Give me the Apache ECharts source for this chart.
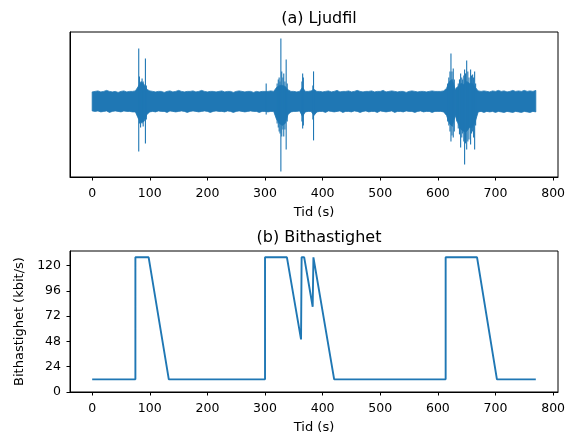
<!DOCTYPE html>
<html>
<head>
<meta charset="utf-8">
<script src="https://cdn.jsdelivr.net/npm/echarts@6/dist/echarts.min.js"></script>
<style>
html,body{margin:0;padding:0;background:#fff;}
#c{width:572px;height:435px;}
</style>
</head>
<body>
<div id="c"></div>
<script>
// ---- (a) audio waveform: envelope sampled every 5 s (t = 0, 5, ..., 770) ----
const envT = [];
for (let i = 0; i <= 154; i++) envT.push(i * 5);
const envHi = [
 0.095,0.100,0.105,0.095,0.100,0.110,0.100,0.095,0.100,0.090,   // 0-45
 0.100,0.105,0.095,0.100,0.100,0.105,0.150,0.200,0.170,0.120,   // 50-95
 0.105,0.100,0.095,0.100,0.100,0.090,0.100,0.105,0.095,0.100,   // 100-145
 0.110,0.100,0.095,0.100,0.100,0.105,0.095,0.100,0.110,0.100,   // 150-195
 0.095,0.100,0.100,0.095,0.100,0.105,0.095,0.100,0.100,0.090,   // 200-245
 0.100,0.105,0.100,0.095,0.100,0.100,0.090,0.100,0.095,0.100,   // 250-295
 0.100,0.100,0.105,0.100,0.140,0.160,0.160,0.150,0.115,0.100,   // 300-345
 0.100,0.095,0.100,0.140,0.100,0.100,0.105,0.120,0.100,0.100,   // 350-395
 0.095,0.100,0.105,0.095,0.100,0.110,0.095,0.100,0.100,0.105,   // 400-445
 0.095,0.100,0.110,0.100,0.095,0.100,0.100,0.105,0.095,0.100,   // 450-495
 0.100,0.110,0.095,0.100,0.105,0.100,0.095,0.100,0.100,0.090,   // 500-545
 0.100,0.105,0.100,0.095,0.100,0.100,0.095,0.100,0.105,0.100,   // 550-595
 0.100,0.100,0.105,0.130,0.200,0.220,0.120,0.150,0.180,0.170,   // 600-645
 0.200,0.180,0.180,0.140,0.105,0.100,0.105,0.100,0.095,0.105,   // 650-695
 0.100,0.110,0.100,0.105,0.095,0.100,0.110,0.100,0.105,0.100,   // 700-745
 0.110,0.100,0.105,0.100,0.110                                  // 750-770
];
const envLo = [
 -0.095,-0.100,-0.095,-0.105,-0.100,-0.095,-0.110,-0.100,-0.095,-0.100,
 -0.105,-0.095,-0.100,-0.100,-0.105,-0.105,-0.170,-0.210,-0.200,-0.130,
 -0.105,-0.100,-0.105,-0.095,-0.100,-0.100,-0.110,-0.095,-0.100,-0.105,
 -0.100,-0.095,-0.100,-0.110,-0.100,-0.095,-0.100,-0.105,-0.100,-0.095,
 -0.100,-0.110,-0.100,-0.095,-0.100,-0.100,-0.105,-0.095,-0.100,-0.110,
 -0.100,-0.095,-0.100,-0.105,-0.100,-0.095,-0.100,-0.100,-0.110,-0.100,
 -0.100,-0.105,-0.100,-0.100,-0.180,-0.220,-0.240,-0.220,-0.130,-0.105,
 -0.100,-0.100,-0.095,-0.150,-0.105,-0.100,-0.100,-0.140,-0.105,-0.100,
 -0.100,-0.110,-0.095,-0.100,-0.105,-0.100,-0.095,-0.110,-0.100,-0.100,
 -0.105,-0.095,-0.100,-0.110,-0.100,-0.095,-0.105,-0.100,-0.100,-0.110,
 -0.095,-0.100,-0.105,-0.100,-0.095,-0.110,-0.100,-0.100,-0.105,-0.095,
 -0.100,-0.100,-0.110,-0.100,-0.095,-0.105,-0.100,-0.100,-0.110,-0.100,
 -0.100,-0.100,-0.105,-0.140,-0.220,-0.250,-0.140,-0.220,-0.280,-0.300,
 -0.300,-0.260,-0.260,-0.200,-0.105,-0.100,-0.110,-0.100,-0.105,-0.100,
 -0.110,-0.100,-0.105,-0.110,-0.100,-0.105,-0.110,-0.100,-0.105,-0.110,
 -0.100,-0.105,-0.110,-0.100,-0.105
];
// individual peaks of the waveform
const spikeT  = [80.8,82,84,86.6,88.5,92.4,94, 302,321,323,324.5,326,327.5,329,331,332.5,334.5,336.7,338.5, 364,365.3,366.5,383,384.2,
  617,619,621,622.7,624.5,626.7,628.5,633,635.4,637.5,639.5,641.5,643,645,646.4,648,650,652,654,656.8,658.5,660.3,662,663.8,665.5];
const spikeHi = [0.53,0.25,0.18,0.23,0.20,0.43,0.16, 0.18,0.18,0.22,0.24,0.20,0.63,0.30,0.24,0.28,0.20,0.42,0.18, 0.20,0.28,0.24,0.16,0.30,
  0.18,0.24,0.30,0.48,0.30,0.33,0.22,0.14,0.18,0.22,0.28,0.24,0.22,0.26,0.32,0.28,0.41,0.30,0.24,0.32,0.26,0.27,0.24,0.30,0.18];
const spikeLo = [-0.50,-0.22,-0.26,-0.22,-0.25,-0.42,-0.18, -0.13,-0.22,-0.26,-0.30,-0.32,-0.70,-0.35,-0.28,-0.35,-0.28,-0.48,-0.20, -0.20,-0.27,-0.24,-0.18,-0.39,
  -0.20,-0.24,-0.30,-0.40,-0.34,-0.36,-0.30,-0.20,-0.27,-0.33,-0.46,-0.36,-0.32,-0.40,-0.63,-0.42,-0.48,-0.40,-0.38,-0.43,-0.32,-0.30,-0.36,-0.48,-0.24];

// ---- (b) bitrate ----
const brT = [0, 75, 75, 98, 133, 300, 300, 338, 362.5, 363.5, 368, 382.7, 384, 386, 420, 613.5, 613.5, 668, 702.5, 770];
const brV = [12, 12, 128, 128, 12, 12, 128, 128, 50, 128, 128, 81, 128, 128, 12, 12, 128, 128, 12, 12];

const xTicks = [0, 100, 200, 300, 400, 500, 600, 700, 800];
const yTicksB = [0, 24, 48, 72, 96, 120];

const C = '#1f77b4';
const FONT = 'DejaVu Sans';
const TICKF = 12.5, NAMEF = 13, TITLEF = 16;

const chart = echarts.init(document.getElementById('c'), null, {renderer: 'canvas'});

function xAxisCfg(gi) {
  return {
    type: 'value', gridIndex: gi, min: -38.5, max: 808.5,
    name: 'Tid (s)', nameLocation: 'middle', nameGap: 29,
    nameTextStyle: {fontFamily: FONT, fontSize: NAMEF, color: '#000'},
    axisLine: {show: true, onZero: false, lineStyle: {color: '#000', width: 1}},
    axisTick: {show: true, length: 3.5, inside: false, customValues: xTicks, lineStyle: {color: '#000', width: 1}},
    axisLabel: {show: true, customValues: xTicks, margin: 10, fontFamily: FONT, fontSize: TICKF, color: '#000'},
    splitLine: {show: false}
  };
}

const envData = envT.map((t, i) => [t, envHi[i], envLo[i]]);
const spikeData = spikeT.map((t, i) => [t, spikeHi[i], spikeLo[i]]);
const brData = brT.map((t, i) => [t, brV[i]]);

chart.setOption({
  animation: false,
  backgroundColor: '#fff',
  title: [
    {text: '(a) Ljudfil', left: 314, top: 6, textAlign: 'center',
     textStyle: {fontFamily: FONT, fontSize: TITLEF, fontWeight: 'normal', color: '#000'}},
    {text: '(b) Bithastighet', left: 314, top: 225, textAlign: 'center',
     textStyle: {fontFamily: FONT, fontSize: TITLEF, fontWeight: 'normal', color: '#000'}}
  ],
  grid: [
    {left: 70, top: 32, width: 488, height: 145, show: true, borderColor: '#000', borderWidth: 1, backgroundColor: 'transparent'},
    {left: 70, top: 251, width: 488, height: 145, show: true, borderColor: '#000', borderWidth: 1, backgroundColor: 'transparent'}
  ],
  xAxis: [xAxisCfg(0), xAxisCfg(1)],
  yAxis: [
    {type: 'value', gridIndex: 0, min: -0.756, max: 0.694,
     axisLine: {show: true, onZero: false, lineStyle: {color: '#000'}}, axisTick: {show: false}, axisLabel: {show: false}, splitLine: {show: false}},
    {type: 'value', gridIndex: 1, min: 0, max: 134,
     name: 'Bithastighet (kbit/s)', nameLocation: 'middle', nameGap: 38,
     nameTextStyle: {fontFamily: FONT, fontSize: NAMEF, color: '#000'},
     axisLine: {show: true, onZero: false, lineStyle: {color: '#000', width: 1}},
     axisTick: {show: true, length: 3.5, customValues: yTicksB, lineStyle: {color: '#000', width: 1}},
     axisLabel: {show: true, customValues: yTicksB, margin: 9, fontFamily: FONT, fontSize: TICKF, color: '#000'},
     splitLine: {show: false}}
  ],
  series: [
    // envelope band drawn as one polygon through the axis scales
    {type: 'custom', xAxisIndex: 0, yAxisIndex: 0, data: [envData[0]], silent: true,
     renderItem: function (params, api) {
       const top = envData.map(d => api.coord([d[0], d[1]]));
       const bot = envData.slice().reverse().map(d => api.coord([d[0], d[2]]));
       return {type: 'polygon', shape: {points: top.concat(bot)},
               style: {fill: C, stroke: C, lineWidth: 0.8}};
     }},
    {type: 'custom', xAxisIndex: 0, yAxisIndex: 0, data: spikeData, silent: true,
     renderItem: function (params, api) {
       const p1 = api.coord([api.value(0), api.value(1)]);
       const p2 = api.coord([api.value(0), api.value(2)]);
       return {type: 'line', shape: {x1: p1[0], y1: p1[1], x2: p2[0], y2: p2[1]},
               style: {stroke: C, lineWidth: 1.1}};
     }},
    {type: 'line', xAxisIndex: 1, yAxisIndex: 1, data: brData, symbol: 'none',
     lineStyle: {color: C, width: 1.9}, silent: true}
  ]
});
</script>
</body>
</html>
